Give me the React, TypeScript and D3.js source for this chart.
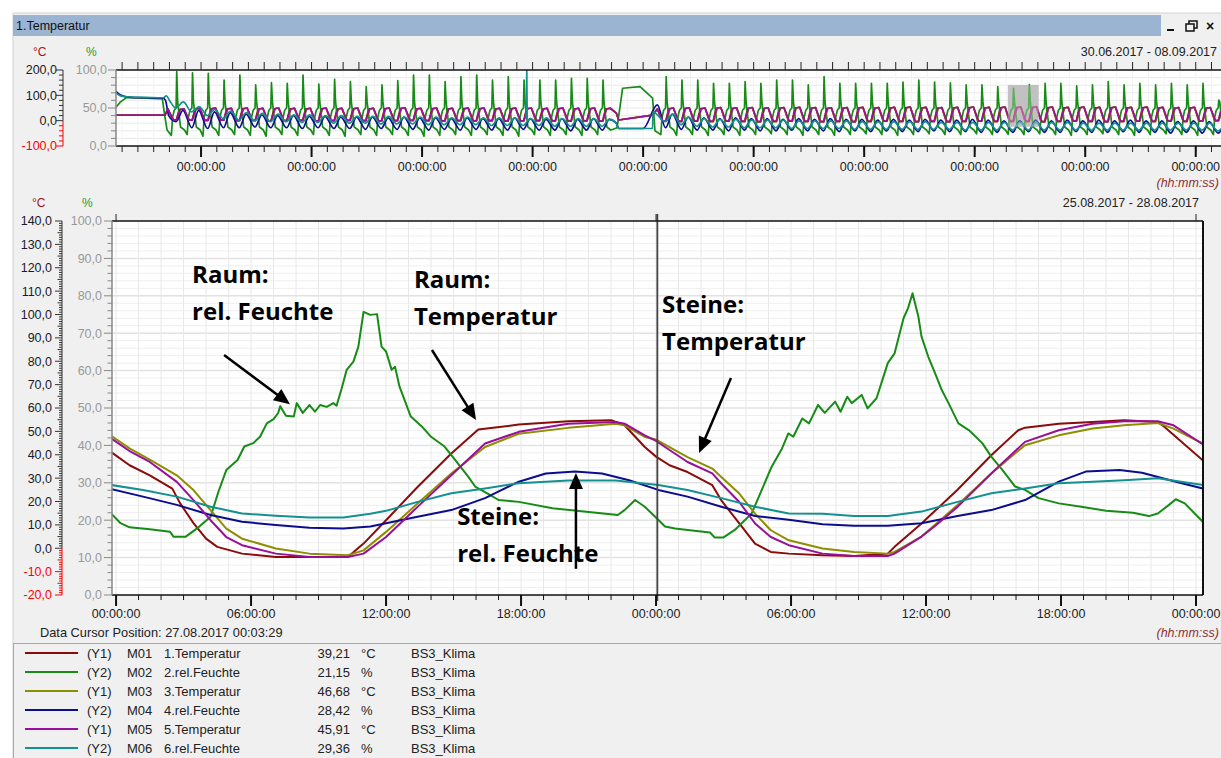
import React from 'react';
import * as d3 from 'd3';

// ---------- Main chart data: [hours since 26.08.2017 00:00, value] ----------
const m01Temp: [number, number][] = [
  [-0.2, 41], [0.6, 35.5], [1.5, 31.2], [2.5, 25.5], [2.85, 19.2], [3.45, 10.6], [4.0, 4.1], [4.5, 0.6],
  [5.6, -2.3], [7.1, -3.7], [8.6, -3.7], [10.3, -3.7], [11, 2], [12, 12], [13.4, 26.2], [14.9, 40.5],
  [16.1, 50.8], [17.9, 52.9], [20.1, 54.3], [22.0, 54.8], [22.6, 52.6], [23.5, 43.3], [24.0, 39.2],
  [24.6, 35.5], [25.4, 32.6], [26.5, 27], [26.9, 20.5], [27.7, 10.6], [28.4, 2], [29.1, -1.6],
  [29.9, -2.3], [31.4, -3], [32.8, -3.3], [34.3, -2.3], [34.6, 0.6], [35.8, 10.6], [36.4, 16],
  [37.4, 25], [38.9, 39.8], [40.1, 50.5], [40.4, 51.6], [41.9, 53.3], [43.4, 54], [44.8, 54.8],
  [46.3, 54], [46.6, 51.9], [48.3, 37.6],
];
const m02Hum: [number, number][] = [
  [-0.2, 21.7], [0.2, 19.2], [0.6, 18.1], [1.5, 17.6], [2.4, 16.9], [2.55, 15.6], [3.1, 15.6], [3.6, 17.8],
  [4.2, 20.9], [4.55, 27.6], [4.9, 33.4], [5.4, 36.1], [5.7, 39.7], [6.1, 40.6], [6.4, 42.3], [6.7, 45.9],
  [7.0, 47], [7.2, 48.6], [7.3, 50.5], [7.55, 47.9], [7.9, 47.7], [8.03, 51.3], [8.3, 48.7], [8.6, 50.8],
  [8.84, 49], [9.07, 50.8], [9.36, 50.3], [9.66, 51.3], [9.8, 50.6], [10.03, 55.3], [10.25, 60.2],
  [10.55, 62.4], [10.77, 66.4], [11.0, 75.7], [11.3, 74.9], [11.6, 75.1], [11.8, 66.4], [12.0, 65.1],
  [12.25, 60.2], [12.4, 61], [12.6, 55.7], [13.1, 47.7], [13.6, 45], [14.0, 42.3], [14.6, 39.7],
  [15.07, 36.1], [15.66, 31.6], [15.96, 29], [16.5, 27.2], [17.0, 25.4], [17.9, 24.9], [19.4, 23.2],
  [20.8, 22.3], [22.3, 21.4], [22.6, 22.7], [23.07, 25.4], [23.5, 23.6], [23.96, 20.9], [24.4, 18.3],
  [24.84, 17.8], [25.7, 17.2], [26.4, 16.7], [26.6, 15.4], [27.0, 15.4], [27.5, 17.4], [28.25, 21.8],
  [28.7, 28.1], [29.14, 34.3], [29.6, 39.2], [29.88, 43.2], [30.1, 42.3], [30.5, 47.2], [30.8, 45.9],
  [31.2, 50.8], [31.5, 48.7], [31.96, 51.7], [32.2, 49], [32.5, 53], [32.7, 51.3], [33.14, 53.5],
  [33.4, 49.9], [33.8, 52.6], [34.3, 62], [34.6, 64.6], [35.0, 74], [35.2, 76.7], [35.4, 80.7],
  [35.66, 74.4], [35.8, 69.1], [36.1, 63.7], [36.4, 59.3], [36.7, 54.8], [37.0, 51.3], [37.44, 45.9],
  [37.9, 44.1], [38.5, 40.6], [38.9, 37], [39.4, 33.4], [39.96, 29], [40.4, 28.1], [41.0, 25.9],
  [41.9, 24.5], [42.9, 23.6], [44.0, 22.5], [45.2, 22], [45.9, 21.1], [46.3, 21.8], [46.8, 24.1],
  [47.1, 25.6], [47.5, 24.5], [48.3, 19.6],
];
const m03Temp: [number, number][] = [
  [-0.2, 48], [0.6, 42.7], [1.5, 37.9], [2.7, 31.2], [3.45, 24.8], [4.2, 16.3], [4.9, 8.4], [5.6, 4.1],
  [7.1, -0.1], [8.6, -2.3], [10.3, -3], [11, -0.9], [12, 7], [13.4, 19.1], [14.9, 32], [16.4, 43.3],
  [17.9, 49], [20.1, 51.5], [22.2, 53.3], [22.6, 52.6], [23.5, 47.6], [24.0, 46.5], [25.4, 39],
  [26.5, 34.1], [26.9, 30.5], [27.7, 23.4], [28.4, 14.8], [29.1, 7.7], [29.9, 3.4], [31.4, -0.1],
  [32.8, -1.6], [34.3, -2.3], [34.6, -1.6], [35.8, 5], [36.4, 10], [37.4, 18.5], [38.9, 32], [40.4, 44.1],
  [41.9, 48.3], [43.4, 51.2], [44.8, 52.6], [46.3, 53.6], [47, 51.2], [48.3, 44.8],
];
const m04Hum: [number, number][] = [
  [-0.2, 28.3], [1.2, 26.3], [2.7, 24.1], [4.2, 21.4], [5.6, 19.6], [7.1, 18.7], [8.6, 18], [10.1, 17.8],
  [11.3, 18.3], [12, 19.2], [13.4, 20.9], [14.9, 22.7], [16.4, 25.9], [17.9, 30.3], [19.1, 32.5],
  [20.4, 33], [21.6, 32.5], [22.8, 30.7], [24.1, 28.1], [25.4, 26.3], [26.9, 23.6], [28.4, 21.1],
  [29.9, 20.1], [31.4, 18.9], [32.8, 18.5], [34.3, 18.5], [35.8, 19.2], [37.4, 21.1], [38.9, 22.7],
  [40.4, 25.4], [41.9, 30.3], [43.1, 33], [44.6, 33.4], [45.6, 32.7], [47.1, 30.3], [48.3, 28.5],
];
const m05Temp: [number, number][] = [
  [-0.2, 46.9], [0.6, 41.6], [1.5, 36.9], [2.7, 28.4], [3.45, 20.5], [4.2, 12], [4.9, 4.8], [5.6, 1.3],
  [7.1, -2.3], [8.6, -3.7], [10.3, -3.7], [11, -2.3], [12, 4.8], [13.4, 17.7], [14.9, 31.2], [16.4, 44.8],
  [17.9, 49.8], [20.1, 53.3], [22.2, 54], [22.6, 53.3], [23.5, 48.3], [24.0, 45.9], [25.4, 36.9],
  [26.5, 32], [26.9, 27.7], [27.7, 19.8], [28.4, 10.6], [29.1, 4.8], [29.9, 1.3], [31.4, -2.3],
  [32.8, -3.3], [34.3, -3.3], [34.6, -2.3], [35.8, 5], [36.4, 9.5], [37.4, 17.7], [38.9, 32], [40.4, 45.5],
  [41.9, 50.5], [43.4, 53.3], [44.8, 54.3], [46.3, 54.3], [47, 52.6], [48.3, 44.5],
];
const m06Hum: [number, number][] = [
  [-0.2, 29.4], [1.2, 28.1], [2.7, 26.3], [4.2, 23.6], [5.6, 21.8], [7.1, 21.2], [8.6, 20.7], [10.1, 20.7],
  [11.3, 21.7], [12, 22.5], [13.4, 24.9], [14.9, 27.2], [16.4, 28.5], [17.9, 29.9], [20.1, 30.6],
  [22.2, 30.6], [24.1, 29.4], [25.4, 28.1], [26.9, 25.9], [28.4, 23.6], [29.9, 21.8], [31.4, 21.7],
  [32.8, 21.1], [34.3, 21.1], [35.8, 22.3], [37.4, 24.9], [38.9, 27.2], [40.4, 28.5], [41.9, 29.9],
  [43.4, 30.3], [44.8, 30.7], [46.3, 31.2], [48.3, 29.4],
];

// ---------- Overview data (days since 30.06.2017 00:00) ----------
const ovCycleDaysA = d3.range(4, 32);
const ovCycleDaysB = d3.range(35, 71);
const ovGreenPeak = [
  97.8, 96.4, 95.7, 86.8, 93.4, 80.3, 83.3, 82.5, 93.4, 81.6, 87.8, 84.6, 78, 80.3, 85.9, 93.4, 93.4, 84.6,
  91.2, 93.4, 86.8, 91.2, 86.8, 86.8, 86.8, 89, 89, 86.8,
  91.2, 86.8, 86.8, 82.5, 82.5, 84.6, 82.5, 86.8, 86.8, 80.3, 91.2, 82.5, 82.5, 82.5, 82.5, 84, 86.8, 84,
  83, 80.3, 80.3, 78, 76, 80.7, 82.5, 82.5, 79, 80.3, 84.6, 80.3, 82.5, 80.3, 82.5, 80.3, 82.5, 60.5,
];
const ovGreenLow = [
  14, 15, 13, 14, 15, 14, 13, 15, 14, 15, 14, 13, 15, 14, 15, 14, 13, 14, 15, 14, 15, 14, 13, 15, 14, 15, 14, 15,
  15, 14, 15, 14, 15, 14, 15, 16, 15, 14, 15, 14, 15, 16, 15, 14, 15, 16, 15, 15, 16, 15, 15.4, 15, 16, 15,
  14, 15, 16, 15, 14, 15, 16, 15, 14, 15,
];
const ovTempHi = [
  47, 49, 50, 49, 50, 49, 50, 49, 49, 50, 49, 50, 49, 50, 51, 49, 50, 49, 50, 50, 49, 50, 50, 49, 50, 49, 50, 49,
  50, 51, 50, 52, 51, 52, 51, 52, 53, 52, 51, 52, 53, 52, 53, 54, 53, 52, 53, 54, 53, 54, 54, 55, 54, 53,
  54, 53, 54, 53, 54, 53, 52, 53, 52, 51,
];
const ovTempLo = [
  3, 2, 1, 2, 0, 1, -1, 0, 1, -1, 0, 1, 0, -1, 0, 1, 0, -1, 0, -1, 0, -2, -1, 0, -1, -2, -1, -2,
  -2, -3, -2, -3, -2, -3, -4, -3, -2, -3, -4, -3, -4, -3, -2, -3, -4, -3, -4, -3, -2, -3, -3, -3, -4, -3,
  -2, -3, -4, -3, -2, -3, -2, -3, -2, 0,
];
const ovNavyHi = [
  47, 47, 45, 44, 42, 41, 40, 40, 39, 39, 38, 38, 38, 37, 38, 37, 37, 36, 37, 36, 36, 37, 36, 35, 36, 35, 36, 35,
  42, 38, 37, 36, 37, 36, 36, 35, 36, 35, 36, 35, 35, 34, 35, 34, 35, 34, 34, 35, 34, 33, 33, 34, 33, 34,
  33, 34, 33, 34, 33, 33, 32, 33, 32, 30,
];
const ovNavyLo = [
  32, 24, 23, 24, 24, 25, 24, 24, 23, 24, 23, 23, 22, 23, 22, 22, 21, 22, 21, 22, 21, 21, 22, 21, 21, 20, 21, 21,
  24, 22, 21, 21, 20, 21, 20, 20, 21, 20, 20, 19, 20, 19, 20, 19, 19, 20, 19, 19, 18, 18, 18, 19, 18, 18,
  19, 18, 18, 19, 18, 18, 17, 18, 17, 17,
];
const ovTealHi = [
  58, 52, 48, 46, 44, 43, 42, 41, 41, 40, 40, 39, 39, 39, 38, 38, 38, 37, 38, 37, 37, 37, 36, 37, 36, 36, 36, 35,
  42, 38, 36, 35, 35, 34, 34, 34, 33, 33, 33, 33, 32, 32, 32, 32, 32, 31, 31, 31, 31, 31, 31, 31, 31, 31,
  30, 30, 30, 30, 30, 30, 30, 30, 30, 30,
];
const ovTealLo = [
  50, 45, 40, 36, 34, 33, 32, 32, 31, 31, 30, 30, 30, 29, 29, 29, 28, 28, 28, 28, 27, 27, 27, 27, 26, 26, 26, 26,
  32, 28, 26, 25, 25, 24, 24, 24, 23, 23, 23, 23, 22, 22, 22, 22, 22, 22, 22, 21, 21, 21, 21, 21, 21, 21,
  21, 21, 21, 21, 21, 21, 21, 21, 21, 20,
];
// start and gap segments [day, value]
const ovTempStart: [number, number][] = [[0.614, 22], [3.72, 22], [3.9, 47]];
const ovTempGap: [number, number][] = [[32.3, 30], [32.45, 2.6], [34.6, 22], [34.9, 46]];
const ovNavyStart: [number, number][] = [[0.614, 72], [0.9, 67], [1.5, 64], [2.5, 63.5], [3.6, 63], [3.75, 60], [3.95, 40]];
const ovNavyGap: [number, number][] = [[32.3, 30], [32.45, 23], [34.0, 23], [34.9, 54]];
const ovTealStart: [number, number][] = [[0.614, 70], [0.9, 66], [1.5, 64.5], [2.5, 64], [3.6, 63.5], [3.8, 66], [4.0, 60]];
const ovTealGap: [number, number][] = [[32.3, 30], [32.45, 23], [34.6, 23], [34.62, 45]];
const ovTealSpike: [number, number][] = [[26.6, 36], [26.63, 100], [26.66, 36]];
const ovGreenStart: [number, number][] = [[0.614, 51], [0.9, 58], [1.3, 64], [2.5, 63], [3.55, 62], [3.7, 40], [3.85, 21]];
const ovGreenGap: [number, number][] = [[32.1, 22], [32.35, 24], [32.7, 76], [33.8, 78], [34.6, 63], [34.75, 20]];
// typical daily shape of the room humidity: [fraction of day, value or key]
const greenDayShape: [number, number | string][] = [
  [0.12, 'low'], [0.2, 38], [0.3, 47], [0.42, 50], [0.46, 'peak'], [0.52, 58], [0.7, 25], [0.95, 21],
];

// ---------- Axis / legend labels ----------
const mainTempTicks = d3.range(-20, 141, 10);
const mainHumTicks = d3.range(0, 101, 10);
const mainHourTicks = d3.range(0, 49, 6);
const ovTempTicks = [-100, 0, 100, 200];
const ovHumTicks = [0, 50, 100];
const ovMajorDays = [6, 13, 20, 27, 34, 41, 48, 55, 62, 69];
const legendAxis = ['(Y1)', '(Y2)', '(Y1)', '(Y2)', '(Y1)', '(Y2)'];
const legendIds = ['M01', 'M02', 'M03', 'M04', 'M05', 'M06'];
const legendNames = ['1.Temperatur', '2.rel.Feuchte', '3.Temperatur', '4.rel.Feuchte', '5.Temperatur', '6.rel.Feuchte'];
const legendValues = ['39,21', '21,15', '46,68', '28,42', '45,91', '29,36'];
const legendUnits = ['°C', '%', '°C', '%', '°C', '%'];
const legendSource = 'BS3_Klima';
const colors = ['#8b0a0a', '#168c16', '#8e8e00', '#0c0c8e', '#990f99', '#139090'];

// annotations in data coordinates (hours, %)
const notes: { lines: string[]; h: number; v: number[] }[] = [
  { lines: ['Raum:', 'rel. Feuchte'], h: 3.38, v: [83.4, 73.5] },
  { lines: ['Raum:', 'Temperatur'], h: 13.24, v: [82.1, 72.2] },
  { lines: ['Steine:', 'Temperatur'], h: 24.27, v: [75.4, 65.5] },
  { lines: ['Steine:', 'rel. Feuchte'], h: 15.16, v: [18.7, 8.8] },
];
const arrows: [number, number, number, number][] = [
  [4.8, 64.2, 7.73, 51.0],
  [14.04, 65.5, 16.0, 46.8],
  [27.33, 58.0, 25.91, 38.0],
  [20.44, 7.0, 20.44, 32.6],
];

const fmt = (v: number) => v.toFixed(1).replace('.', ',');
const hh = (h: number) => `${String(h % 24).padStart(2, '0')}:00:00`;

export default function App() {
  const font = '"Liberation Sans", Arial, sans-serif';
  // main scales
  const mx = d3.scaleLinear().domain([-0.18, 48.31]).range([112, 1203]);
  const yT = d3.scaleLinear().domain([-20, 140]).range([595, 221]);
  const yH = d3.scaleLinear().domain([0, 100]).range([595, 221]);
  // overview scales
  const ox = d3.scaleLinear().domain([0.614, 70.6]).range([116, 1221]);
  const oyT = d3.scaleLinear().domain([-100, 200]).range([146, 70]);
  const oyH = d3.scaleLinear().domain([0, 100]).range([146, 70]);

  const lineT = d3.line<[number, number]>().x(d => mx(d[0])).y(d => yT(d[1]));
  const lineH = d3.line<[number, number]>().x(d => mx(d[0])).y(d => yH(d[1]));
  const oLineT = d3.line<[number, number]>().x(d => ox(d[0])).y(d => oyT(d[1]));
  const oLineH = d3.line<[number, number]>().x(d => ox(d[0])).y(d => oyH(d[1]));
  const oLineHs = d3.line<[number, number]>().x(d => ox(d[0])).y(d => oyH(d[1])).curve(d3.curveMonotoneX);

  const allDays = [...ovCycleDaysA, ...ovCycleDaysB];
  const split = (pts: [number, number][][], start: [number, number][], gap: [number, number][]) => {
    const a = pts.slice(0, ovCycleDaysA.length).flat();
    const b = pts.slice(ovCycleDaysA.length).flat();
    return [...start, ...a, ...gap, ...b];
  };
  const tempSeries = (p: number[]) =>
    split(allDays.map((d, i) => [[d + p[0], ovTempLo[i]], [d + p[1], ovTempLo[i]], [d + p[2], ovTempHi[i] - 3], [d + 0.92, ovTempHi[i]]] as [number, number][]), ovTempStart, ovTempGap);
  const ovPurple = tempSeries([0.25, 0.44, 0.67]);
  const ovOlive = tempSeries([0.24, 0.45, 0.7]);
  const ovRed = tempSeries([0.2, 0.43, 0.62]);
  const ovNavy = split(allDays.map((d, i) => [[d + 0.42, ovNavyLo[i]], [d + 0.85, ovNavyHi[i]]] as [number, number][]), ovNavyStart, ovNavyGap);
  const ovTeal = split(allDays.map((d, i) => [[d + 0.4, ovTealLo[i]], [d + 0.88, ovTealHi[i]]] as [number, number][]), ovTealStart, ovTealGap);
  const ovGreen = split(allDays.map((d, i) => greenDayShape.map(([f, k]) => [d + f, k === 'low' ? ovGreenLow[i] : k === 'peak' ? ovGreenPeak[i] : (k as number)] as [number, number])), ovGreenStart, ovGreenGap);

  const hourGrid = d3.range(0, 49);
  const humGrid = d3.range(2, 100, 2);
  const tempMinor = d3.range(-20, 141, 1);
  const humMinor = d3.range(0, 101, 2);
  const ovDays = d3.range(1, 71);

  const arrowHead = (x1: number, y1: number, x2: number, y2: number) => {
    const a = Math.atan2(y2 - y1, x2 - x1);
    const L = 16, Wd = 7;
    const bx = x2 - L * Math.cos(a), by = y2 - L * Math.sin(a);
    return `${x2},${y2} ${bx + Wd * Math.sin(a)},${by - Wd * Math.cos(a)} ${bx - Wd * Math.sin(a)},${by + Wd * Math.cos(a)}`;
  };

  const mainLines = [
    { d: lineT(m01Temp), c: colors[0] },
    { d: lineH(m02Hum), c: colors[1] },
    { d: lineT(m03Temp), c: colors[2] },
    { d: lineH(m04Hum), c: colors[3] },
    { d: lineT(m05Temp), c: colors[4] },
    { d: lineH(m06Hum), c: colors[5] },
  ];
  const ovLines = [
    { d: oLineT(ovRed), c: colors[0] },
    { d: oLineH(ovGreen), c: colors[1] },
    { d: oLineT(ovOlive), c: colors[2] },
    { d: oLineHs(ovNavy), c: colors[3] },
    { d: oLineT(ovPurple), c: colors[4] },
    { d: oLineHs(ovTeal), c: colors[5] },
    { d: oLineH(ovTealSpike), c: colors[5] },
  ];
  const cursorH = 24 + 3 / 60 + 29 / 3600;
  const hlX = ox(57.1), hlW = ox(59.05) - ox(57.1), hlY = oyH(80.3), hlH = oyH(25.4) - oyH(80.3);

  return (
    <svg width={1221} height={758} style={{ position: 'absolute', left: 0, top: 0, fontFamily: font }}>
      <defs>
        <clipPath id="mainClip"><rect x={112} y={221} width={1091} height={374} /></clipPath>
        <clipPath id="ovClip"><rect x={116} y={70} width={1105} height={76} /></clipPath>
      </defs>
      <rect x={0} y={0} width={1221} height={758} fill="#ffffff" />
      <rect x={13} y={13} width={1210} height={750} fill="#f0f0f0" stroke="#d4d4d4" />
      {/* title bar */}
      <rect x={13} y={15} width={1148} height={21} fill="#9bb4d2" />
      <text x={16} y={30} fontSize={12.5} fill="#111">1.Temperatur</text>
      <rect x={1167} y={29} width={7} height={2} fill="#111" />
      <rect x={1189} y={21} width={8} height={7} fill="none" stroke="#111" strokeWidth={1.5} />
      <rect x={1186} y={24} width={8} height={7} fill="#f0f0f0" stroke="#111" strokeWidth={1.5} />
      <text x={1210} y={31} fontSize={14} fontWeight="bold" textAnchor="middle" fill="#111">×</text>

      {/* ===== overview ===== */}
      <text x={33} y={56} fontSize={12} fill="#a01515">°C</text>
      <text x={86} y={56} fontSize={12} fill="#2a9a2a">%</text>
      <text x={1217} y={56} fontSize={12.5} textAnchor="end" fill="#222">30.06.2017 - 08.09.2017</text>
      <rect x={116} y={70} width={1105} height={76} fill="#ffffff" />
      {d3.range(10, 100, 10).map(v => (
        <line key={'og' + v} x1={116} x2={1221} y1={oyH(v)} y2={oyH(v)} stroke="#e9e9e9" />
      ))}
      {ovDays.map(d => (
        <line key={'ogv' + d} x1={ox(d)} x2={ox(d)} y1={70} y2={146} stroke="#f3f3f3" />
      ))}
      <rect x={hlX} y={hlY} width={hlW} height={hlH} fill="#a6a6a6" />
      <g clipPath="url(#ovClip)" fill="none" strokeWidth={1.7} strokeLinejoin="round">
        {ovLines.map((l, i) => <path key={'ol' + i} d={l.d || ''} stroke={l.c} />)}
      </g>
      <rect x={hlX} y={hlY} width={hlW} height={hlH} fill="#ffffff" opacity={0.3} />
      <line x1={116} x2={1221} y1={70} y2={70} stroke="#111" strokeWidth={1.5} />
      <line x1={116} x2={1221} y1={146} y2={146} stroke="#111" strokeWidth={1.5} />
      <line x1={116} x2={116} y1={70} y2={146} stroke="#888" strokeWidth={1.5} />
      {ovDays.map(d => (
        <g key={'ot' + d}>
          <line x1={ox(d)} x2={ox(d)} y1={62} y2={70} stroke="#222" />
          <line x1={ox(d)} x2={ox(d)} y1={146} y2={152} stroke="#222" />
        </g>
      ))}
      {ovMajorDays.map(d => (
        <g key={'om' + d}>
          <line x1={ox(d)} x2={ox(d)} y1={146} y2={157} stroke="#111" strokeWidth={2} />
          <text x={ox(d)} y={171} fontSize={12.5} textAnchor="middle" fill="#222">00:00:00</text>
        </g>
      ))}
      <text x={1219} y={187} fontSize={12.5} fontStyle="italic" textAnchor="end" fill="#8b3030">(hh:mm:ss)</text>
      {/* overview °C axis */}
      <line x1={63} x2={63} y1={70} y2={oyT(0)} stroke="#333" />
      <line x1={63} x2={63} y1={oyT(0)} y2={146} stroke="#ff0000" />
      {d3.range(-100, 201, 20).map(v => (
        <line key={'otc' + v} x1={v % 100 === 0 ? 56 : 59} x2={63} y1={oyT(v)} y2={oyT(v)} stroke={v < 0 ? '#ff0000' : '#333'} />
      ))}
      {ovTempTicks.map(v => (
        <text key={'otl' + v} x={57} y={oyT(v)} dy="0.35em" fontSize={12.5} textAnchor="end" fill={v < 0 ? '#ff0000' : '#1a1a2a'}>{fmt(v)}</text>
      ))}
      {d3.range(0, 101, 10).map(v => (
        <line key={'ohc' + v} x1={v % 50 === 0 ? 108 : 111} x2={116} y1={oyH(v)} y2={oyH(v)} stroke="#888" />
      ))}
      {ovHumTicks.map(v => (
        <text key={'ohl' + v} x={107} y={oyH(v)} dy="0.35em" fontSize={12.5} textAnchor="end" fill="#999">{fmt(v)}</text>
      ))}

      {/* ===== main chart ===== */}
      <text x={32} y={207} fontSize={12} fill="#a01515">°C</text>
      <text x={82} y={207} fontSize={12} fill="#2a9a2a">%</text>
      <text x={1199} y={207} fontSize={12.5} textAnchor="end" fill="#222">25.08.2017 - 28.08.2017</text>
      <rect x={112} y={221} width={1091} height={374} fill="#ffffff" />
      {humGrid.map(v => (
        <line key={'hg' + v} x1={112} x2={1203} y1={yH(v)} y2={yH(v)} stroke={v % 10 === 0 ? '#e2e2e2' : '#eeeeee'} strokeWidth={v % 10 === 0 ? 1.5 : 1} />
      ))}
      {hourGrid.map(h => (
        <line key={'vg' + h} x1={mx(h)} x2={mx(h)} y1={221} y2={595} stroke="#e8e8e8" />
      ))}
      <g clipPath="url(#mainClip)" fill="none" strokeWidth={2} strokeLinejoin="round">
        {mainLines.map((l, i) => <path key={'ml' + i} d={l.d || ''} stroke={l.c} />)}
      </g>
      {/* cursor */}
      <line x1={mx(cursorH)} x2={mx(cursorH)} y1={214} y2={601} stroke="#444" strokeWidth={1.8} />
      {/* frame */}
      <line x1={112} x2={1203} y1={221} y2={221} stroke="#111" strokeWidth={1.5} />
      <line x1={1203} x2={1203} y1={221} y2={595} stroke="#111" strokeWidth={2} />
      <line x1={112} x2={1203} y1={595} y2={595} stroke="#111" strokeWidth={1.5} />
      <line x1={112} x2={112} y1={221} y2={595} stroke="#888" strokeWidth={1.5} />
      {[0, 24, 48].map(h => (
        <line key={'tt' + h} x1={mx(h)} x2={mx(h)} y1={214} y2={221} stroke="#222" />
      ))}
      {hourGrid.map(h => (
        <line key={'bt' + h} x1={mx(h)} x2={mx(h)} y1={595} y2={h % 6 === 0 ? 606 : 600} stroke="#111" strokeWidth={h % 6 === 0 ? 2 : 1} />
      ))}
      {mainHourTicks.map(h => (
        <text key={'bl' + h} x={mx(h)} y={618} fontSize={12.5} textAnchor="middle" fill="#222">{hh(h)}</text>
      ))}
      <text x={1219} y={637} fontSize={12.5} fontStyle="italic" textAnchor="end" fill="#8b3030">(hh:mm:ss)</text>
      <text x={40} y={637} fontSize={12.8} fill="#222">Data Cursor Position: 27.08.2017 00:03:29</text>
      {/* main °C axis */}
      <line x1={62} x2={62} y1={221} y2={yT(0)} stroke="#333" />
      <line x1={62} x2={62} y1={yT(0)} y2={595} stroke="#ff0000" />
      {tempMinor.map(v => (
        <line key={'mtc' + v} x1={v % 10 === 0 ? 55 : v % 5 === 0 ? 57.5 : 59} x2={62} y1={yT(v)} y2={yT(v)} stroke={v < 0 ? '#ff0000' : '#333'} />
      ))}
      {mainTempTicks.map(v => (
        <text key={'mtl' + v} x={52} y={yT(v)} dy="0.35em" fontSize={12.5} textAnchor="end" fill={v < 0 ? '#ff0000' : '#1a1a2a'}>{fmt(v)}</text>
      ))}
      {humMinor.map(v => (
        <line key={'mhc' + v} x1={v % 10 === 0 ? 104 : 107.5} x2={112} y1={yH(v)} y2={yH(v)} stroke="#888" />
      ))}
      {mainHumTicks.map(v => (
        <text key={'mhl' + v} x={102} y={yH(v)} dy="0.35em" fontSize={12.5} textAnchor="end" fill="#999">{fmt(v)}</text>
      ))}
      {/* annotations */}
      {notes.map((n, i) => (
        <g key={'n' + i}>
          {n.lines.map((s, j) => (
            <text key={j} x={mx(n.h)} y={yH(n.v[j])} fontSize={24} fontWeight="bold" fontFamily='"Open Sans", sans-serif' fill="#000">{s}</text>
          ))}
        </g>
      ))}
      {arrows.map((a, i) => {
        const x1 = mx(a[0]), y1 = yH(a[1]), x2 = mx(a[2]), y2 = yH(a[3]);
        const ang = Math.atan2(y2 - y1, x2 - x1);
        return (
          <g key={'a' + i}>
            <line x1={x1} y1={y1} x2={x2 - 12 * Math.cos(ang)} y2={y2 - 12 * Math.sin(ang)} stroke="#000" strokeWidth={2.5} />
            <polygon points={arrowHead(x1, y1, x2, y2)} fill="#000" />
          </g>
        );
      })}

      {/* ===== legend ===== */}
      <rect x={13.5} y={643.5} width={1215} height={120} fill="#f0f0f0" stroke="#a8a8a8" />
      {legendIds.map((id, i) => {
        const y = 653 + i * 19;
        return (
          <g key={'lg' + id} fontSize={13} fill="#222">
            <line x1={25} x2={78} y1={y} y2={y} stroke={colors[i]} strokeWidth={2} />
            <text x={87} y={y} dy="0.35em">{legendAxis[i]}</text>
            <text x={127} y={y} dy="0.35em">{id}</text>
            <text x={164} y={y} dy="0.35em">{legendNames[i]}</text>
            <text x={350} y={y} dy="0.35em" textAnchor="end">{legendValues[i]}</text>
            <text x={361} y={y} dy="0.35em">{legendUnits[i]}</text>
            <text x={411} y={y} dy="0.35em">{legendSource}</text>
          </g>
        );
      })}
    </svg>
  );
}
